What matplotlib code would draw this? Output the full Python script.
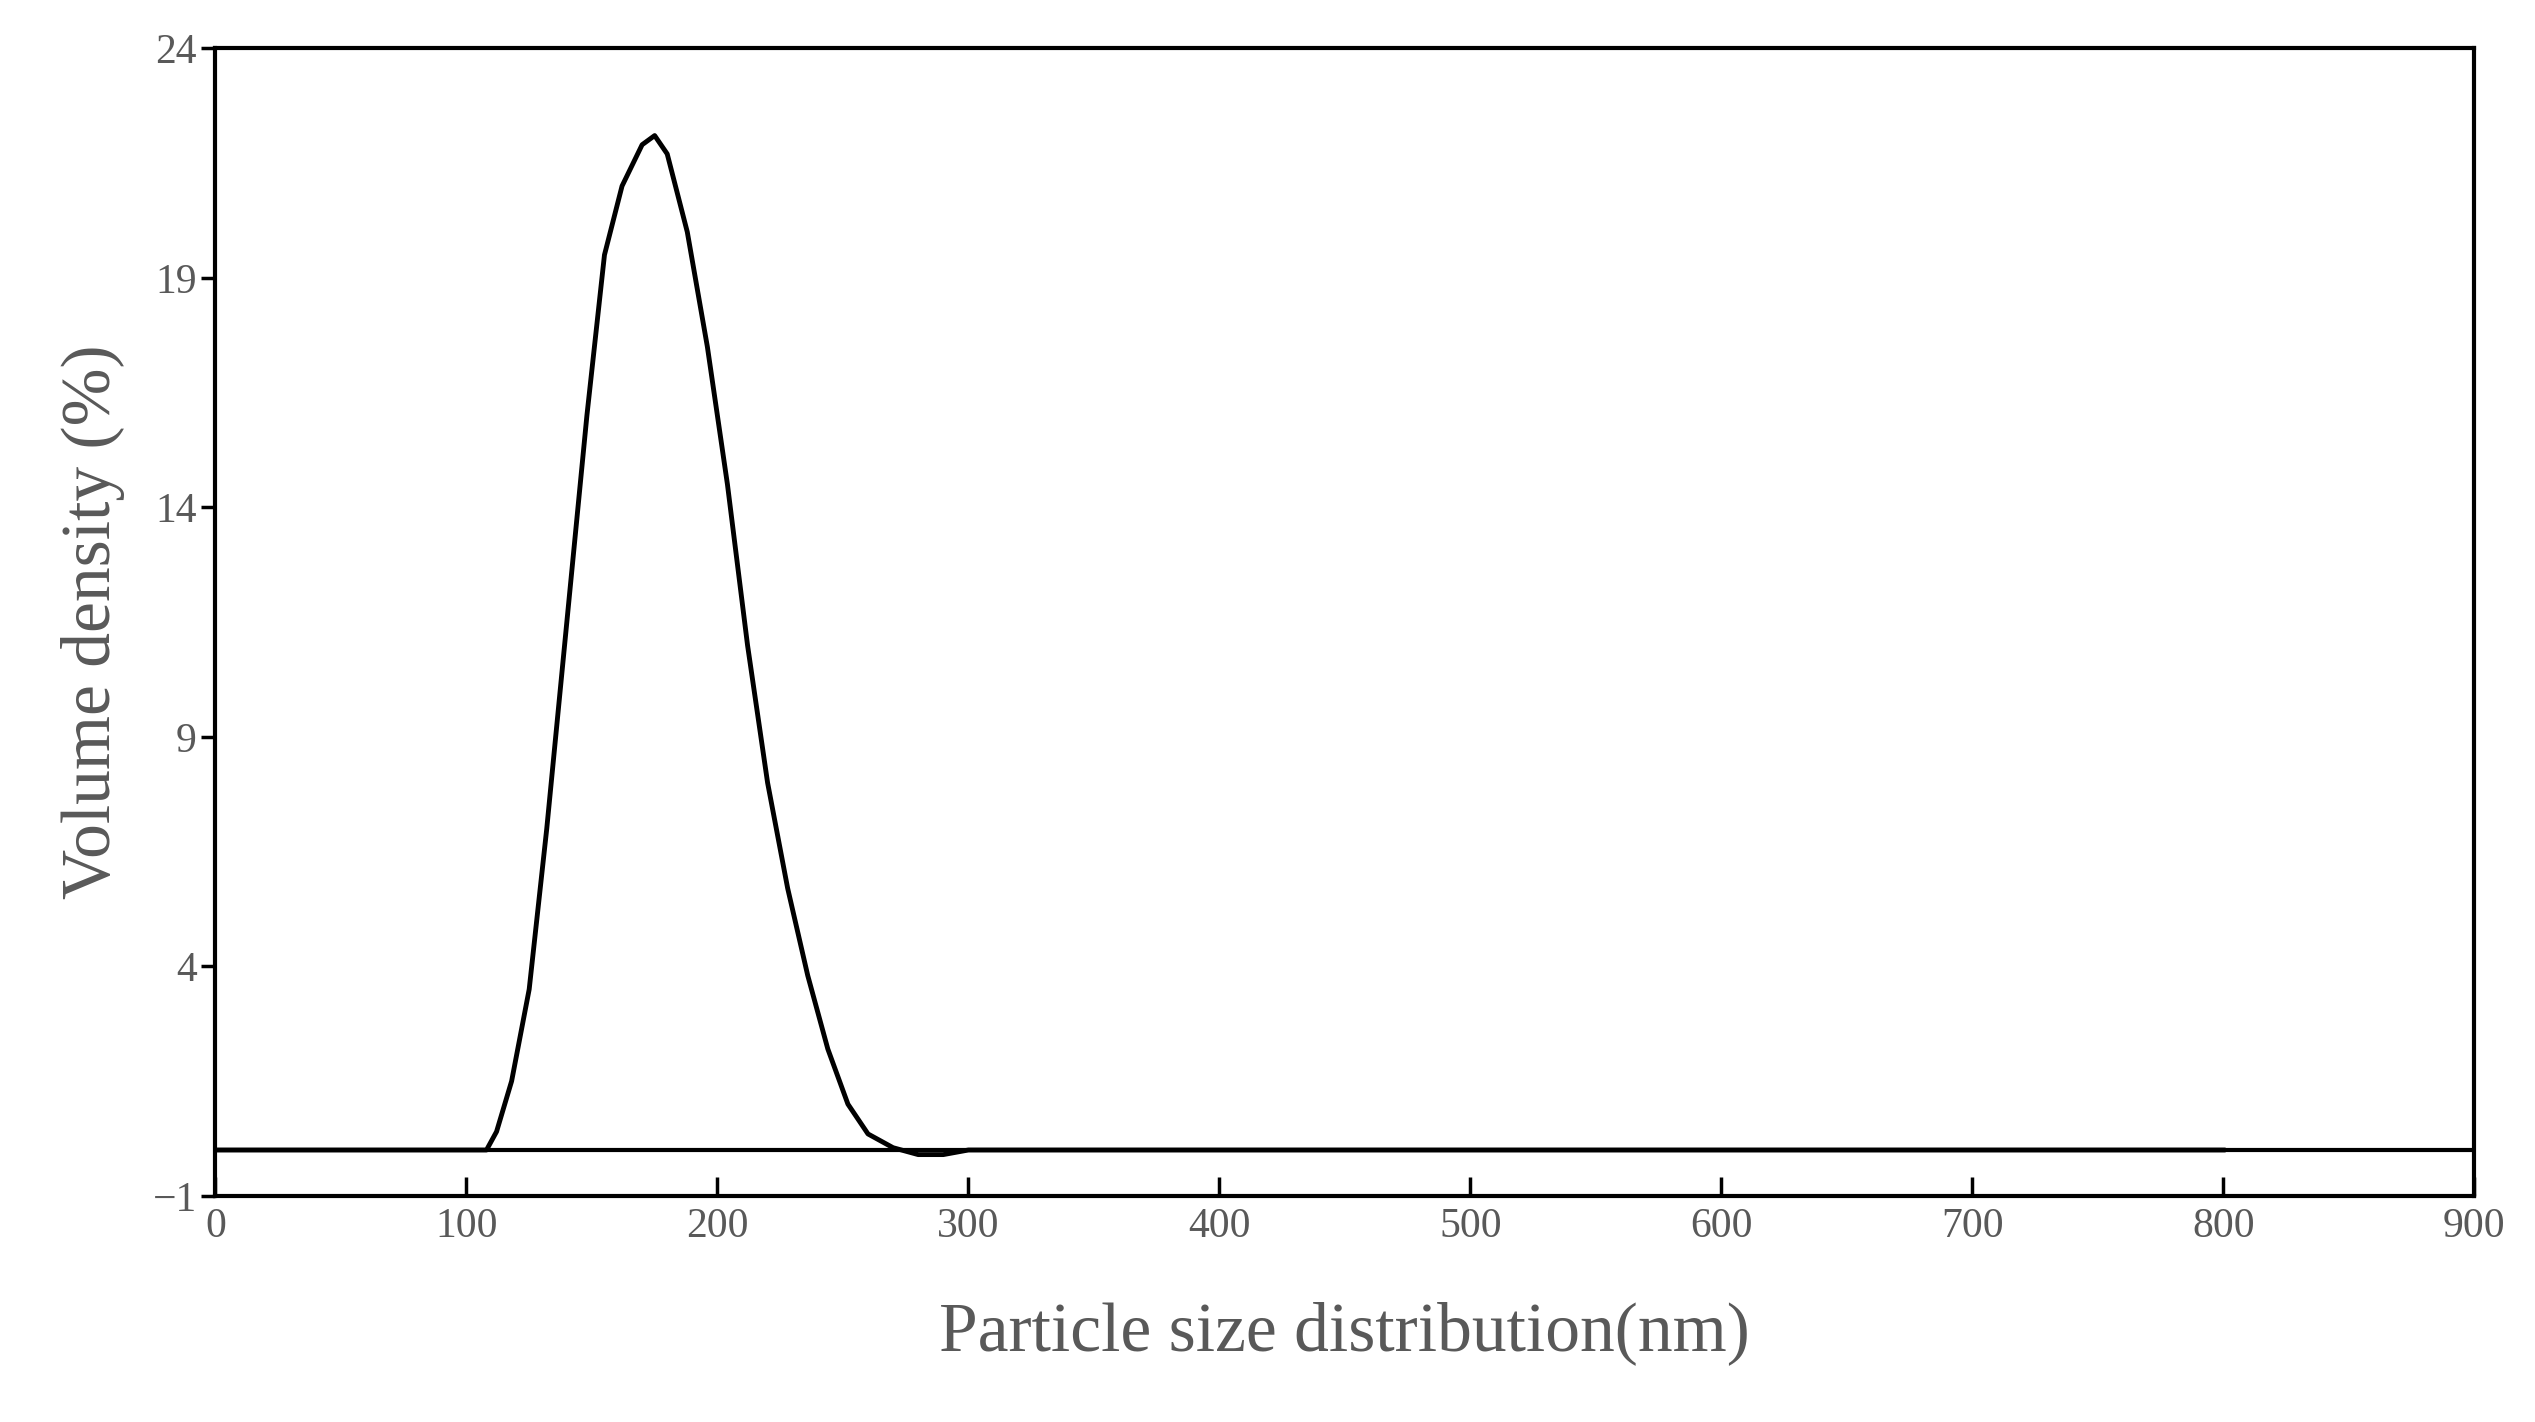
import matplotlib
matplotlib.use("Agg")
import matplotlib.pyplot as plt
import numpy as np

size_nm = [0, 100, 108, 112, 118, 125, 132, 140, 148, 155, 162, 170, 175, 180, 188, 196, 204, 212, 220, 228, 236, 244, 252, 260, 270, 280, 290, 300, 320, 400, 500, 600, 700, 800]
volume = [0, 0, 0, 0.4, 1.5, 3.5, 7.0, 11.5, 16.0, 19.5, 21.0, 21.9, 22.1, 21.7, 20.0, 17.5, 14.5, 11.0, 8.0, 5.7, 3.8, 2.2, 1.0, 0.35, 0.05, -0.1, -0.1, 0, 0, 0, 0, 0, 0, 0]

plt.rcParams['font.family'] = ['Liberation Serif', 'DejaVu Serif']
fig = plt.figure(figsize=(25.35, 14.22), dpi=100)
ax = fig.add_axes([0.085, 0.159, 0.891, 0.807])
ax.plot([0, 800], [0, 0], color='#aaaaaa', lw=1.5)
ax.axhline(0, color='black', lw=3)
ax.plot(size_nm, volume, color='black', lw=3.5)
ax.set_xlim(0, 900)
ax.set_ylim(-1, 24)
ax.set_xticks(range(0, 901, 100))
ax.set_yticks(range(-1, 25, 5))
for s in ax.spines.values():
    s.set_linewidth(3)
ax.tick_params(axis='x', direction='in', length=14, width=2.5, labelsize=30, labelcolor='#595959', pad=8)
ax.tick_params(axis='y', direction='out', length=10, width=2.5, labelsize=30, labelcolor='#595959')
ax.set_xlabel('Particle size distribution(nm)', fontsize=50, color='#595959', labelpad=40)
ax.set_ylabel('Volume density (%)', fontsize=50, color='#595959', labelpad=20)
fig.savefig('out.png', dpi=100)
